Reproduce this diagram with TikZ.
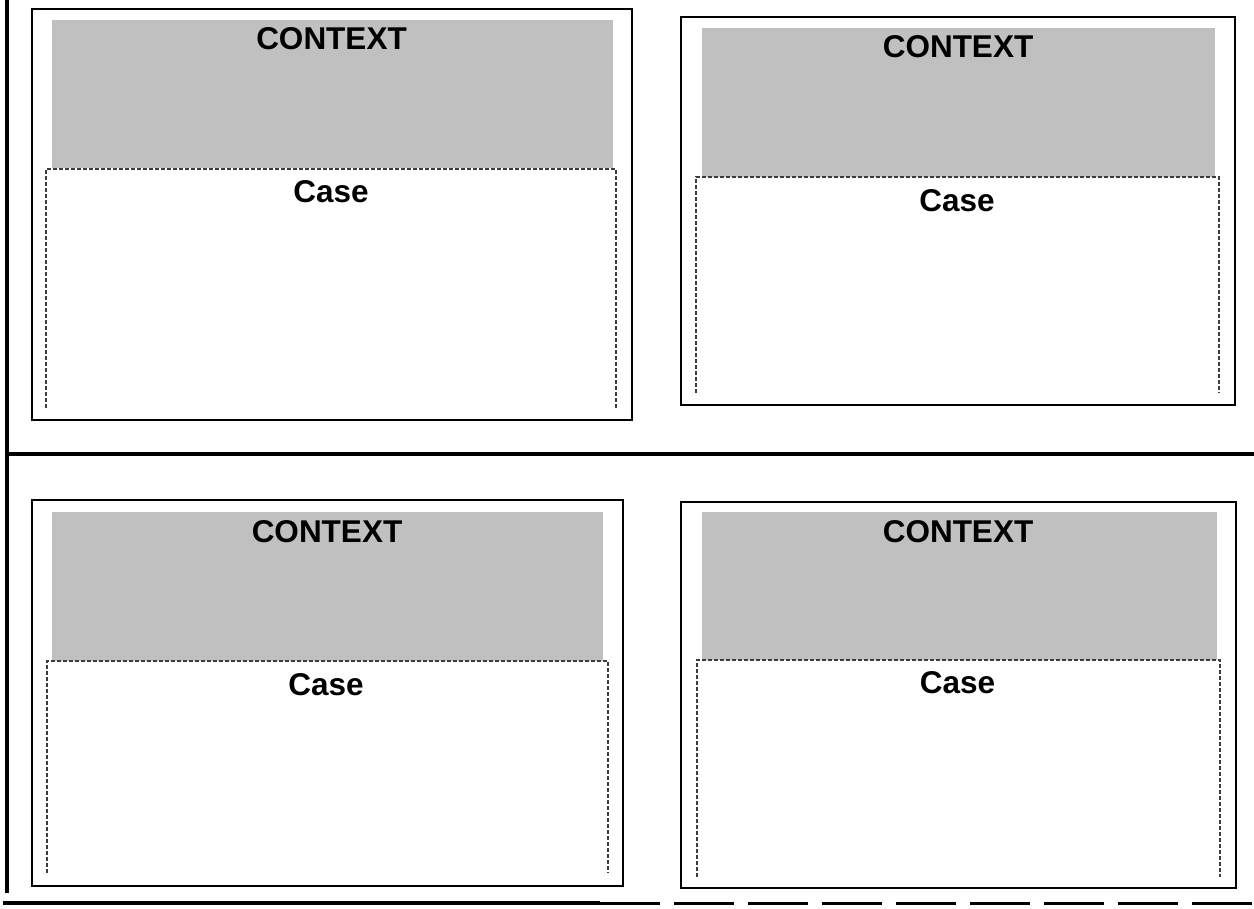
\documentclass[tikz,border=0pt]{standalone}
\usepackage{fontspec}
\setmainfont{Liberation Sans}
\definecolor{ctxgray}{RGB}{192,192,192}
\definecolor{dashgray}{RGB}{60,60,60}
\tikzset{
  outerbox/.style={draw=black, line width=1.8pt},
  ctxfill/.style={fill=ctxgray, draw=none},
  casedash/.style={draw=dashgray, line width=1.3pt, dash pattern=on 4pt off 2pt},
  frameline/.style={draw=black, line width=4.5pt},
  lbl/.style={anchor=base, inner sep=0pt, font=\fontsize{31.5}{36}\bfseries\selectfont},
}
\begin{document}
\begin{tikzpicture}[x=1pt,y=-1pt]
\useasboundingbox (0,0) rectangle (1254,909);
% frame lines
\draw[frameline] (7,0) -- (7,893);
\draw[frameline] (7,454) -- (1254,454);
\draw[black, line width=3.5pt] (3,903) -- (600,903);
\draw[black, line width=3pt, dash pattern=on 60pt off 14pt] (600,903) -- (1254,903);
% box 1
\draw[outerbox] (32,9) rectangle (632,420);
\fill[ctxfill] (52,20) rectangle (613,168);
\draw[casedash] (46,408) -- (46,169) -- (616,169) -- (616,408);
\node[lbl] (ctx1) at (331.5,50) {CONTEXT};
\node[lbl] (case1) at (331,203) {Case};
% box 2
\draw[outerbox] (681,17) rectangle (1235,405);
\fill[ctxfill] (702,28) rectangle (1215,177);
\draw[casedash] (696,393) -- (696,177) -- (1219,177) -- (1219,393);
\node[lbl] (ctx2) at (958,58) {CONTEXT};
\node[lbl] (case2) at (957,212) {Case};
% box 3
\draw[outerbox] (32,500) rectangle (623,886);
\fill[ctxfill] (52,512) rectangle (603,661);
\draw[casedash] (47,873) -- (47,661) -- (608,661) -- (608,873);
\node[lbl] (ctx3) at (327,542) {CONTEXT};
\node[lbl] (case3) at (326,695) {Case};
% box 4
\draw[outerbox] (681,502) rectangle (1236,888);
\fill[ctxfill] (702,512) rectangle (1217,660);
\draw[casedash] (697,877) -- (697,660) -- (1220,660) -- (1220,877);
\node[lbl] (ctx4) at (958,542) {CONTEXT};
\node[lbl] (case4) at (957.5,693) {Case};
\end{tikzpicture}
\end{document}
